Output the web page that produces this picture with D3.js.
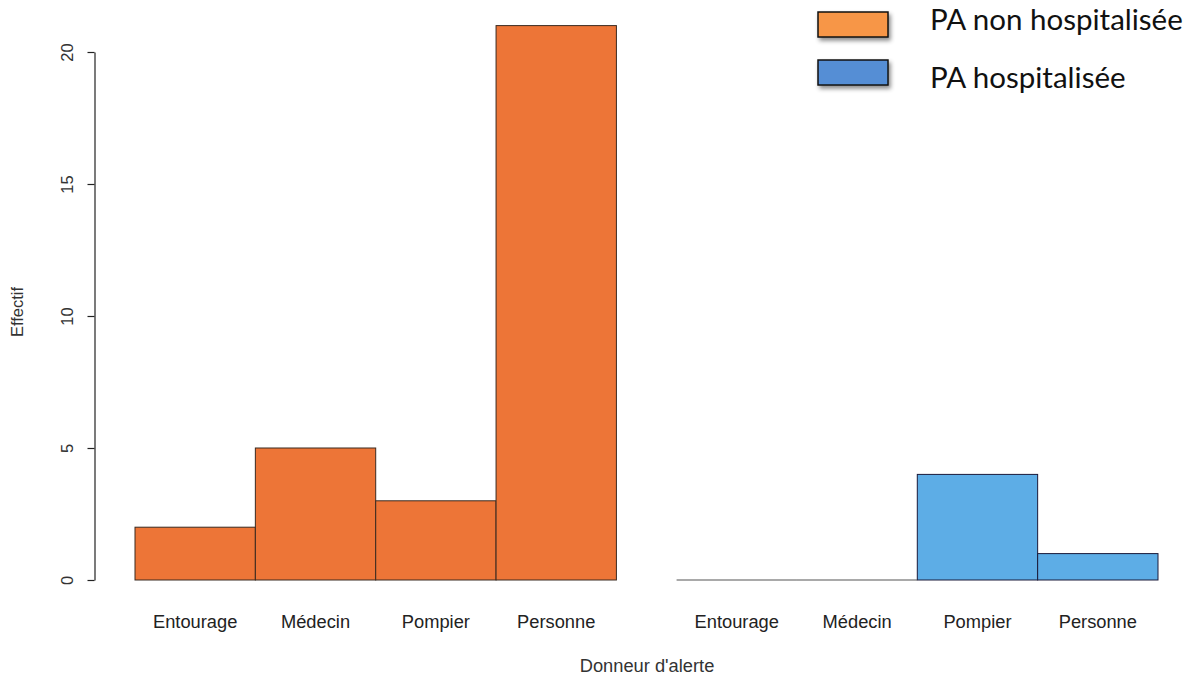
<!DOCTYPE html>
<html>
<head>
<meta charset="utf-8">
<script src="https://cdn.jsdelivr.net/npm/d3@7"></script>
<style>
  html, body { margin: 0; padding: 0; background: #fff; }
  svg { display: block; }
</style>
</head>
<body>
<svg id="chart" width="1187" height="675"></svg>
<script>
// ---- data ----
const categories = ["Entourage", "Médecin", "Pompier", "Personne"];
const groups = ["PA non hospitalisée", "PA hospitalisée"];
const nonHospValues = [2, 5, 3, 21];
const hospValues = [0, 0, 4, 1];
const yTicks = [0, 5, 10, 15, 20];
const barColors = ["#ED7537", "#5DADE6"];
const legendColors = ["#F79646", "#558ED5"];

const seriesValues = [nonHospValues, hospValues];
const gap = 0.5;

const svg = d3.select("#chart");

const x = d3.scaleLinear().domain([0, categories.length * 2 + gap]).range([135, 1158]);
const y = d3.scaleLinear().domain([0, 20]).range([580, 52]);

const defs = svg.append("defs");
const f = defs.append("filter").attr("id", "shadow").attr("x", "-20%").attr("y", "-40%").attr("width", "150%").attr("height", "200%");
f.append("feDropShadow").attr("dx", 2).attr("dy", 3).attr("stdDeviation", 2).attr("flood-color", "#000").attr("flood-opacity", 0.45);

// bars
const barData = [];
seriesValues.forEach((vals, g) => {
  vals.forEach((v, i) => {
    barData.push({ g, i, v, start: g * (categories.length + gap) + i });
  });
});

svg.append("g").selectAll("rect").data(barData).join("rect")
  .attr("x", d => x(d.start))
  .attr("width", d => x(d.start + 1) - x(d.start))
  .attr("y", d => y(d.v))
  .attr("height", d => y(0) - y(d.v))
  .attr("fill", d => barColors[d.g])
  .attr("stroke", d => d.g === 0 ? "#3a2a20" : "#1a1a3a")
  .attr("stroke-width", 1);

// zero-height bars drawn as baseline
svg.append("g").selectAll("line").data(barData.filter(d => d.v === 0)).join("line")
  .attr("x1", d => x(d.start)).attr("x2", d => x(d.start + 1))
  .attr("y1", y(0)).attr("y2", y(0))
  .attr("stroke", "#555").attr("stroke-width", 1.2);

// category labels
svg.append("g").selectAll("text").data(barData).join("text")
  .attr("x", d => x(d.start + 0.5))
  .attr("y", 628)
  .attr("text-anchor", "middle")
  .attr("font-family", "Liberation Sans, Arial, sans-serif")
  .attr("font-size", 18.3)
  .attr("fill", "#222")
  .text(d => categories[d.i]);

// y axis
const yAxis = d3.axisLeft(y).tickValues(yTicks).tickSize(7).tickSizeOuter(0).tickPadding(0);
const ga = svg.append("g").attr("transform", "translate(94.5,0)").call(yAxis);
ga.select(".domain").attr("stroke", "#222").attr("stroke-width", 1.2);
ga.selectAll(".tick line").attr("stroke", "#222").attr("stroke-width", 1.2);
ga.selectAll(".tick text")
  .attr("font-family", "Liberation Sans, Arial, sans-serif")
  .attr("font-size", 16.5)
  .attr("fill", "#333")
  .attr("text-anchor", "middle")
  .attr("dy", null)
  .attr("x", null)
  .attr("transform", "translate(-28,0) rotate(-90)")
  .attr("dominant-baseline", "central");

// axis titles
svg.append("text")
  .attr("x", 647).attr("y", 672)
  .attr("text-anchor", "middle")
  .attr("font-family", "Liberation Sans, Arial, sans-serif")
  .attr("font-size", 18.3)
  .attr("fill", "#333")
  .text("Donneur d'alerte");

svg.append("text")
  .attr("transform", "translate(23,312) rotate(-90)")
  .attr("text-anchor", "middle")
  .attr("font-family", "Liberation Sans, Arial, sans-serif")
  .attr("font-size", 16.5)
  .attr("fill", "#333")
  .text("Effectif");

// legend
const legendTextY = [30, 88];
const legend = svg.append("g");
const lg = legend.selectAll("g").data(groups).join("g");
lg.append("rect")
  .attr("x", 818)
  .attr("y", (d, i) => 12 + i * 48)
  .attr("width", 70).attr("height", 25)
  .attr("fill", (d, i) => legendColors[i])
  .attr("stroke", "#111").attr("stroke-width", 1.5)
  .attr("filter", "url(#shadow)");
lg.append("text")
  .attr("x", 930).attr("y", (d, i) => legendTextY[i])
  .attr("font-family", "Lato, 'Open Sans', sans-serif")
  .attr("font-size", 29.5)
  .attr("fill", "#111")
  .text(d => d);
</script>
</body>
</html>
